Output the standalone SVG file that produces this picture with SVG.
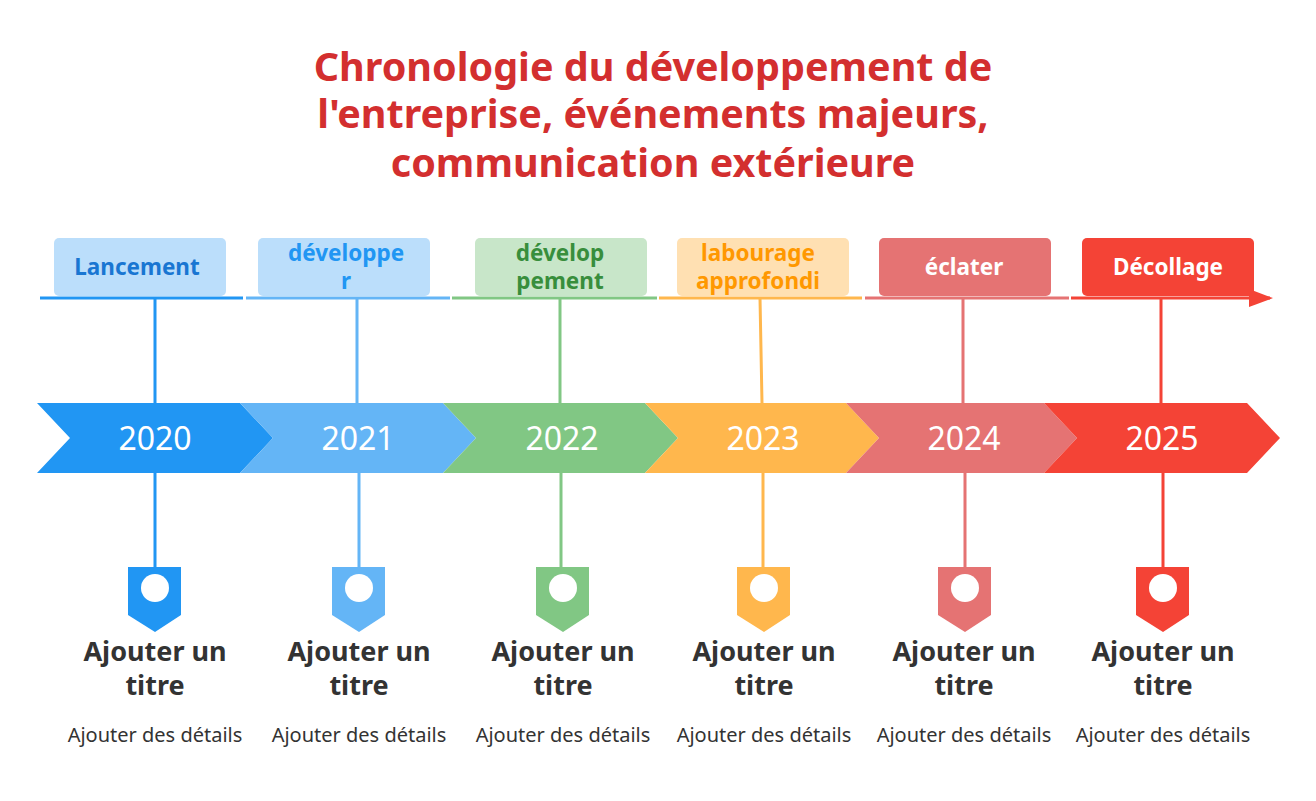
<svg xmlns="http://www.w3.org/2000/svg" width="1316" height="801" viewBox="0 0 1316 801">
<defs>
<style>
text{font-family:"Noto Sans","Liberation Sans",sans-serif;text-anchor:middle}
.title{font-size:39.5px;font-weight:bold;fill:#D32F2F}
.lab{font-size:22.5px;font-weight:bold}
.year{font-size:32px;fill:#fff}
.t{font-size:27px;font-weight:bold;fill:#333}
.d{font-size:20px;fill:#333}
.v{stroke-width:3;fill:none}
</style>
<marker id="ah" markerWidth="8" markerHeight="6" refX="7" refY="3" orient="auto" markerUnits="strokeWidth"><path d="M0,0L8,3L0,6z" fill="#F44336"/></marker>
</defs>
<rect width="1316" height="801" fill="#fff"/>
<g id="title">
<text class="title" x="653" y="81">Chronologie du développement de</text>
<text class="title" x="653" y="128">l'entreprise, événements majeurs,</text>
<text class="title" x="653" y="177">communication extérieure</text>
</g>
<g id="connectors">
<line x1="40" y1="298" x2="243" y2="298" stroke="#2196F3" stroke-width="3"/>
<line x1="246" y1="298" x2="450" y2="298" stroke="#64B5F6" stroke-width="3"/>
<line x1="452" y1="298" x2="657" y2="298" stroke="#81C784" stroke-width="3"/>
<line x1="659" y1="298" x2="862" y2="298" stroke="#FFB74D" stroke-width="3"/>
<line x1="865" y1="298" x2="1069" y2="298" stroke="#E57373" stroke-width="3"/>
<line x1="1071" y1="298" x2="1270" y2="298" stroke="#F44336" stroke-width="3" marker-end="url(#ah)"/>
<path class="v" stroke="#2196F3" d="M155,298V403M155,473V567"/>
<path class="v" stroke="#64B5F6" d="M357,298V403M359,473V567"/>
<path class="v" stroke="#81C784" d="M560,298V403M561,473V567"/>
<path class="v" stroke="#FFB74D" d="M760,298L762,403M763,473V567"/>
<path class="v" stroke="#E57373" d="M963,298V403M965,473V567"/>
<path class="v" stroke="#F44336" d="M1161,298V403M1163,473V567"/>
</g>
<g id="n2020">
<rect x="54" y="238" width="172" height="58" rx="5" fill="#BBDEFB"/>
<text class="lab" x="137" y="275" fill="#1976D2">Lancement</text>
<path d="M37,403H240L273,438L240,473H37L70,438z" fill="#2196F3"/>
<text class="year" x="155" y="450">2020</text>
<path d="M128,567H181V615L155,632L128,615z" fill="#2196F3"/><circle cx="155" cy="588" r="14" fill="#fff"/>
<text class="t" x="155" y="661">Ajouter un</text><text class="t" x="155" y="695">titre</text>
<text class="d" x="155" y="742">Ajouter des détails</text>
</g>
<g id="n2021">
<rect x="258" y="238" width="172" height="58" rx="5" fill="#BBDEFB"/>
<text class="lab" x="346" y="261" fill="#2196F3">développe</text><text class="lab" x="346" y="289" fill="#2196F3">r</text>
<path d="M240,403H443L476,438L443,473H240L273,438z" fill="#64B5F6"/>
<text class="year" x="358" y="450">2021</text>
<path d="M332,567H385V615L359,632L332,615z" fill="#64B5F6"/><circle cx="359" cy="588" r="14" fill="#fff"/>
<text class="t" x="359" y="661">Ajouter un</text><text class="t" x="359" y="695">titre</text>
<text class="d" x="359" y="742">Ajouter des détails</text>
</g>
<g id="n2022">
<rect x="475" y="238" width="172" height="58" rx="5" fill="#C8E6C9"/>
<text class="lab" x="560" y="261" fill="#388E3C">dévelop</text><text class="lab" x="560" y="289" fill="#388E3C">pement</text>
<path d="M443,403H645L678,438L645,473H443L476,438z" fill="#81C784"/>
<text class="year" x="562" y="450">2022</text>
<path d="M536,567H589V615L563,632L536,615z" fill="#81C784"/><circle cx="563" cy="588" r="14" fill="#fff"/>
<text class="t" x="563" y="661">Ajouter un</text><text class="t" x="563" y="695">titre</text>
<text class="d" x="563" y="742">Ajouter des détails</text>
</g>
<g id="n2023">
<rect x="677" y="238" width="172" height="58" rx="5" fill="#FFE0B2"/>
<text class="lab" x="758" y="261" fill="#FF9800">labourage</text><text class="lab" x="758" y="289" fill="#FF9800">approfondi</text>
<path d="M645,403H846L879,438L846,473H645L678,438z" fill="#FFB74D"/>
<text class="year" x="763" y="450">2023</text>
<path d="M737,567H790V615L764,632L737,615z" fill="#FFB74D"/><circle cx="764" cy="588" r="14" fill="#fff"/>
<text class="t" x="764" y="661">Ajouter un</text><text class="t" x="764" y="695">titre</text>
<text class="d" x="764" y="742">Ajouter des détails</text>
</g>
<g id="n2024">
<rect x="879" y="238" width="172" height="58" rx="5" fill="#E57373"/>
<text class="lab" x="964" y="275" fill="#fff">éclater</text>
<path d="M846,403H1044L1077,438L1044,473H846L879,438z" fill="#E57373"/>
<text class="year" x="964" y="450">2024</text>
<path d="M938,567H991V615L965,632L938,615z" fill="#E57373"/><circle cx="965" cy="588" r="14" fill="#fff"/>
<text class="t" x="964" y="661">Ajouter un</text><text class="t" x="964" y="695">titre</text>
<text class="d" x="964" y="742">Ajouter des détails</text>
</g>
<g id="n2025">
<rect x="1082" y="238" width="172" height="58" rx="5" fill="#F44336"/>
<text class="lab" x="1168" y="275" fill="#fff">Décollage</text>
<path d="M1044,403H1247L1280,438L1247,473H1044L1077,438z" fill="#F44336"/>
<text class="year" x="1162" y="450">2025</text>
<path d="M1136,567H1189V615L1163,632L1136,615z" fill="#F44336"/><circle cx="1163" cy="588" r="14" fill="#fff"/>
<text class="t" x="1163" y="661">Ajouter un</text><text class="t" x="1163" y="695">titre</text>
<text class="d" x="1163" y="742">Ajouter des détails</text>
</g>
</svg>
